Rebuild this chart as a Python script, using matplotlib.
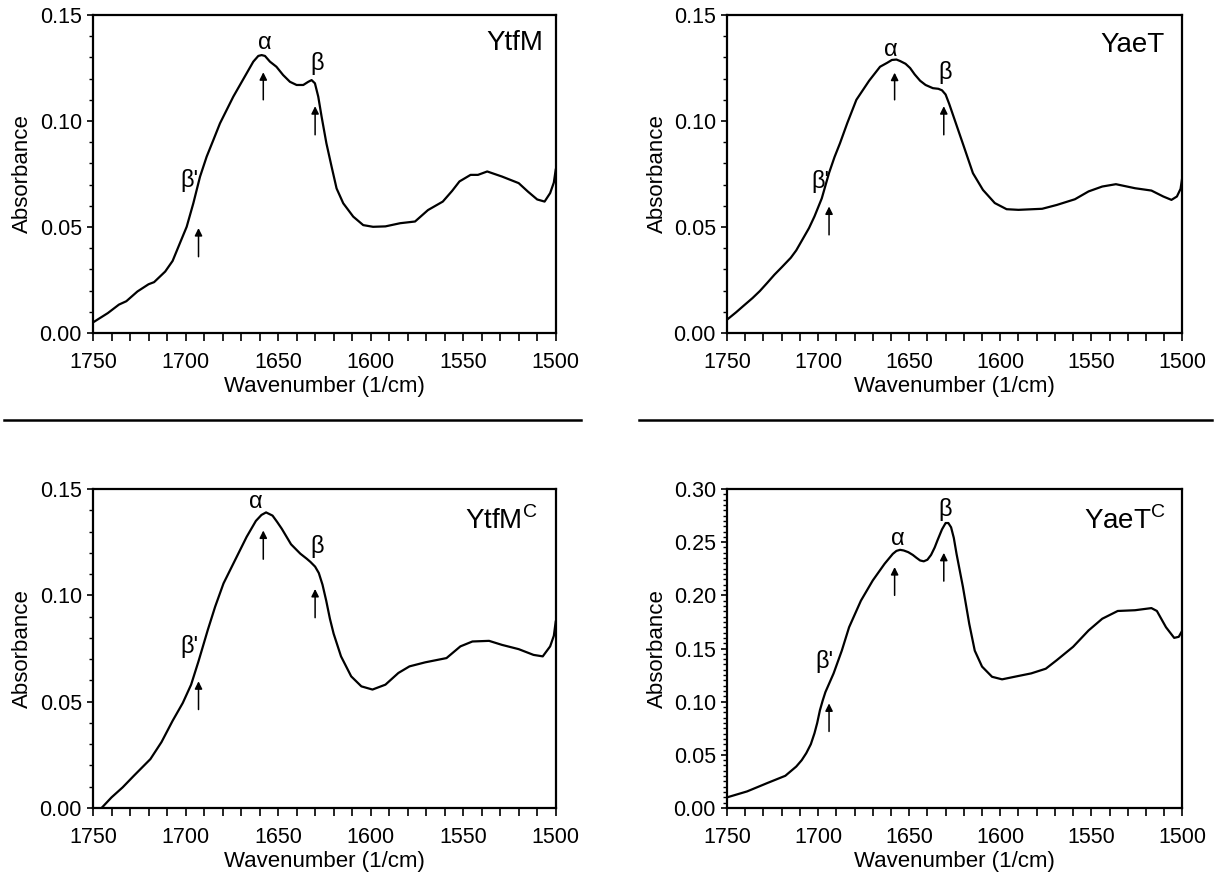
import matplotlib
matplotlib.use('Agg')
import matplotlib.pyplot as plt
import matplotlib.ticker as ticker
from matplotlib.lines import Line2D

plt.rcParams['font.family'] = ['Liberation Sans', 'DejaVu Sans']
plt.rcParams['mathtext.fontset'] = 'custom'
plt.rcParams['mathtext.rm'] = 'Liberation Sans'

# FTIR spectra (wavenumber in 1/cm, absorbance)
wn_ytfm = [1750, 1742, 1736, 1732, 1726, 1720, 1717, 1711, 1707, 1703, 1699.4, 1695.8, 1692.2,
           1688.6, 1685, 1681.4, 1677.8, 1674.2, 1670.6, 1667, 1663.4, 1660.7, 1658.9, 1657.1,
           1654.4, 1650.9, 1647.3, 1643.6, 1640, 1636.4, 1633.7, 1631.9, 1630.1, 1628.3, 1626.5,
           1623.9, 1621.1, 1618.4, 1614.8, 1609.4, 1604, 1598.7, 1592, 1584, 1576, 1569, 1561,
           1556, 1552, 1546, 1542, 1537, 1529, 1520, 1515, 1510, 1506, 1503, 1501, 1500]
abs_ytfm = [0.005, 0.0094, 0.0134, 0.015, 0.0196, 0.023, 0.024, 0.029, 0.034, 0.0425, 0.0501,
            0.0612, 0.0737, 0.0832, 0.091, 0.0989, 0.1052, 0.1115, 0.117, 0.1225, 0.128, 0.1307,
            0.1311, 0.1307, 0.128, 0.1256, 0.1217, 0.1185, 0.117, 0.117, 0.1185, 0.1193, 0.1178,
            0.1115, 0.1021, 0.0895, 0.0785, 0.0682, 0.0612, 0.0549, 0.0509, 0.0501, 0.0503,
            0.0518, 0.0526, 0.058, 0.062, 0.067, 0.0715, 0.0746, 0.0746, 0.0762, 0.0738, 0.0707,
            0.0667, 0.063, 0.062, 0.066, 0.071, 0.077]

wn_yaet = [1750, 1745, 1741, 1736, 1732, 1728, 1724, 1720, 1715, 1712, 1709, 1705, 1702, 1698,
           1694, 1691, 1688, 1684, 1679, 1672, 1666, 1662, 1659.5, 1657, 1655, 1652, 1649.5,
           1647, 1644, 1641, 1637, 1634, 1632, 1630, 1628, 1625, 1620, 1615, 1609.5, 1603,
           1596.5, 1590, 1577, 1569, 1559, 1551.5, 1544, 1536.5, 1526, 1517, 1510.5, 1506, 1503,
           1501, 1500]
abs_yaet = [0.0063, 0.0098, 0.0128, 0.0165, 0.0198, 0.0236, 0.0275, 0.031, 0.0355, 0.039,
            0.0435, 0.0495, 0.055, 0.0635, 0.0755, 0.083, 0.0895, 0.099, 0.110, 0.119, 0.1256,
            0.1275, 0.1288, 0.129, 0.1283, 0.127, 0.125, 0.122, 0.119, 0.117, 0.1155, 0.1152,
            0.1145, 0.1125, 0.108, 0.1005, 0.088, 0.0754, 0.0675, 0.0613, 0.0584, 0.0581, 0.0586,
            0.0604, 0.0631, 0.0668, 0.0691, 0.0702, 0.0683, 0.0672, 0.0644, 0.0628, 0.0644, 0.068,
            0.0738]

wn_ytfmc = [1745.4, 1740, 1734, 1728, 1719, 1713, 1707, 1701.5, 1697, 1693, 1688, 1684, 1679.5,
            1673, 1667, 1662, 1659, 1656.5, 1653, 1650.5, 1648, 1643, 1638, 1634.5, 1632.5, 1630,
            1628, 1626, 1624, 1622, 1620, 1616, 1610.5, 1605, 1599, 1592, 1585, 1579, 1570.5,
            1559, 1551.5, 1545, 1536, 1529, 1520, 1512, 1507, 1503, 1501, 1500]
abs_ytfmc = [0.0, 0.005, 0.0097, 0.0151, 0.023, 0.031, 0.041, 0.0494, 0.058, 0.069, 0.0837,
             0.0947, 0.1056, 0.117, 0.1275, 0.135, 0.1378, 0.139, 0.1375, 0.1345, 0.1313, 0.124,
             0.1196, 0.1172, 0.1157, 0.1135, 0.1105, 0.105, 0.0975, 0.089, 0.082, 0.0713,
             0.0619, 0.0572, 0.0557, 0.058, 0.0635, 0.0666, 0.0685, 0.0705, 0.076, 0.0783,
             0.0786, 0.0767, 0.0747, 0.072, 0.0713, 0.076, 0.081, 0.0876]

wn_yaetc = [1750, 1739, 1728, 1718, 1712, 1709, 1706.5, 1704, 1702, 1700.5, 1699, 1697.5, 1696,
            1691.5, 1687, 1683, 1676.5, 1670, 1663.5, 1659, 1657, 1655, 1653, 1650.5, 1648, 1646,
            1644, 1642, 1640, 1638, 1636, 1634.5, 1632, 1630, 1628.5, 1627, 1625.5, 1624, 1620.5,
            1617, 1614, 1610, 1604.5, 1599, 1590.5, 1583, 1575, 1569, 1560, 1551.5, 1544, 1535.5,
            1526, 1517, 1514, 1509, 1504.5, 1502, 1500]
abs_yaetc = [0.010, 0.0156, 0.0234, 0.0303, 0.039, 0.045, 0.0516, 0.060, 0.0703, 0.080, 0.092,
             0.101, 0.109, 0.1266, 0.148, 0.170, 0.195, 0.214, 0.2297, 0.239, 0.2418, 0.2428,
             0.2422, 0.2406, 0.238, 0.2353, 0.2328, 0.232, 0.2335, 0.238, 0.245, 0.2516, 0.262,
             0.268, 0.268, 0.264, 0.254, 0.239, 0.208, 0.173, 0.148, 0.133, 0.1234, 0.121, 0.124,
             0.1266, 0.131, 0.139, 0.1516, 0.167, 0.178, 0.1853, 0.186, 0.188, 0.1853, 0.170,
             0.160, 0.161, 0.167]

titles = ['YtfM', 'YaeT', 'YtfM$^{\\mathrm{C}}$', 'YaeT$^{\\mathrm{C}}$']
title_pos = [(1507, 0.137), (1510, 0.136), (1510, 0.135), (1509, 0.270)]
y_max = [0.15, 0.15, 0.15, 0.30]
y_minor = [0.01, 0.01, 0.01, 0.005]

# band labels: (text, x, y) and arrows: (x, y_tail, y_head)
band_labels = [
    [("β'", 1698, 0.072), ('α', 1657, 0.137), ('β', 1629, 0.127)],
    [("β'", 1699, 0.0715), ('α', 1660, 0.1335), ('β', 1630, 0.123)],
    [("β'", 1698, 0.076), ('α', 1662, 0.144), ('β', 1629, 0.123)],
    [("β'", 1696.5, 0.1375), ('α', 1656, 0.253), ('β', 1630, 0.281)],
]
band_arrows = [
    [(1693, 0.036, 0.0495), (1658, 0.110, 0.123), (1630, 0.0935, 0.107)],
    [(1694, 0.0463, 0.0597), (1658, 0.110, 0.1228), (1631, 0.0935, 0.107)],
    [(1693, 0.0463, 0.0596), (1658, 0.117, 0.1305), (1630, 0.0895, 0.103)],
    [(1694, 0.072, 0.0984), (1658, 0.200, 0.2266), (1631, 0.2134, 0.240)],
]

spectra = [(wn_ytfm, abs_ytfm), (wn_yaet, abs_yaet), (wn_ytfmc, abs_ytfmc), (wn_yaetc, abs_yaetc)]

fig = plt.figure(figsize=(12.24, 8.94), dpi=100)
positions = [[0.076, 0.6275, 0.378, 0.3557], [0.594, 0.6275, 0.372, 0.3557],
             [0.076, 0.0962, 0.378, 0.3568], [0.594, 0.0962, 0.372, 0.3568]]

for i, (wn, ab) in enumerate(spectra):
    ax = fig.add_axes(positions[i])
    ax.plot(wn, ab, color='black', lw=1.6, solid_joinstyle='round')
    ax.set_xlim(1750, 1500)
    ax.set_ylim(0, y_max[i])

    ax.xaxis.set_major_locator(ticker.MultipleLocator(50))
    ax.xaxis.set_minor_locator(ticker.MultipleLocator(10))
    ax.yaxis.set_major_locator(ticker.MultipleLocator(0.05))
    ax.yaxis.set_minor_locator(ticker.MultipleLocator(y_minor[i]))
    ax.yaxis.set_major_formatter(ticker.FormatStrFormatter('%.2f'))
    ax.tick_params(axis='x', which='both', direction='out', length=6, width=1.2,
                   labelsize=15.5, pad=8)
    ax.tick_params(axis='y', which='major', direction='out', length=4, width=1.2,
                   labelsize=15.5, pad=4)
    ax.tick_params(axis='y', which='minor', direction='out', length=3, width=1.0)
    for sp in ax.spines.values():
        sp.set_linewidth(1.6)

    ax.set_xlabel('Wavenumber (1/cm)', fontsize=16)
    ax.set_ylabel('Absorbance', fontsize=16)
    ax.xaxis.set_label_coords(0.5, -0.135)
    ax.yaxis.set_label_coords(-0.13, 0.5)

    tx, ty = title_pos[i]
    ax.text(tx, ty, titles[i], fontsize=20, ha='right', va='center')
    for txt, x, y in band_labels[i]:
        ax.text(x, y, txt, fontsize=17, ha='center', va='center')
    for x, y0, y1 in band_arrows[i]:
        ax.annotate('', xy=(x, y1), xytext=(x, y0),
                    arrowprops=dict(arrowstyle='-|>', color='black', lw=1.1,
                                    mutation_scale=11, shrinkA=0, shrinkB=0))

# horizontal separators between the two rows
fig.add_artist(Line2D([4 / 1224, 581 / 1224], [1 - 420 / 894] * 2, color='black', lw=1.8))
fig.add_artist(Line2D([639 / 1224, 1212 / 1224], [1 - 420 / 894] * 2, color='black', lw=1.8))

fig.savefig('out.png', dpi=100)
